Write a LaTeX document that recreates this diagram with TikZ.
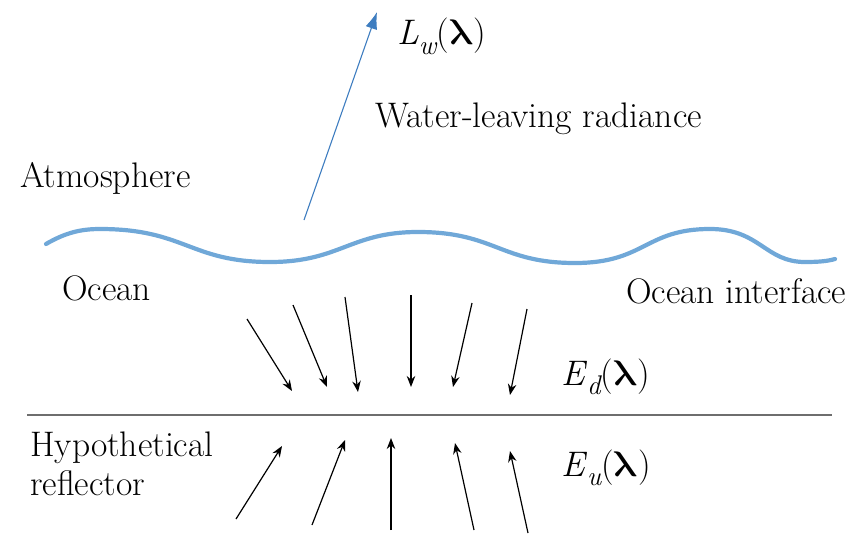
\documentclass[tikz,border=0pt]{standalone}
\usepackage{unicode-math}
\usetikzlibrary{arrows.meta}
\definecolor{wavecol}{RGB}{112,168,216}
\definecolor{arrowblue}{RGB}{62,125,192}
\definecolor{linegray}{RGB}{110,110,110}
\newcommand{\subtxt}[1]{\raisebox{-0.28em}{\fontsize{27}{30}\selectfont\itshape #1}}
\newcommand{\lam}{($\symbfup{\lambda}$)}
\tikzset{
  lbl/.style={font=\fontsize{35.5}{41}\selectfont, inner sep=0pt, anchor=base west},
  flux/.style={draw=black, line width=1.2pt, -{Stealth[length=11pt,width=8.5pt]}},
  leaving/.style={draw=arrowblue, line width=1.1pt, -{Latex[length=17pt,width=12pt]}},
  surface/.style={draw=wavecol, line width=4.2pt, line cap=round},
  reflector/.style={draw=linegray, line width=1.3pt}
}
\begin{document}
\begin{tikzpicture}[x=1pt,y=-1pt]
\useasboundingbox (0,0) rectangle (853,535);
% ocean surface
\draw[surface] (46,244) .. controls (65,233) and (80,229) .. (100,229)
  .. controls (185,229) and (190,262) .. (270,262)
  .. controls (340,262) and (350,232) .. (418,232)
  .. controls (495,232) and (500,263) .. (575,263)
  .. controls (645,263) and (645,229) .. (710,229)
  .. controls (760,229) and (765,262) .. (805,262)
  .. controls (820,262) and (828,261) .. (835,259);
% water-leaving radiance arrow
\coordinate (lwstart) at (304,220);
\coordinate (lwend) at (377,12);
\draw[leaving] (lwstart) -- (lwend);
\node[lbl] (lw) at (397,45) {\textit{L}\subtxt{w}\lam};
\node[lbl] (wlr) at (375,127) {Water-leaving radiance};
\node[lbl] (atm) at (20,187) {Atmosphere};
\node[lbl] (ocean) at (62,300) {Ocean};
\node[lbl] (oi) at (626,303) {Ocean interface};
% hypothetical reflector
\coordinate (refl) at (27,415);
\coordinate (refr) at (832,415);
\draw[reflector] (refl) -- (refr);
\node[lbl] (hyp) at (30,456) {Hypothetical};
\node[lbl] (rfl) at (30,495) {reflector};
\node[lbl] (ed) at (561,385) {\textit{E}\subtxt{d}\lam};
\node[lbl] (eu) at (561,476) {\textit{E}\subtxt{u}\lam};
% downwelling arrows
\coordinate (d1s) at (247,319); \coordinate (d1e) at (292,391);
\coordinate (d2s) at (293,305); \coordinate (d2e) at (327,387);
\coordinate (d3s) at (345,297); \coordinate (d3e) at (358,392);
\coordinate (d4s) at (411,295); \coordinate (d4e) at (411,387);
\coordinate (d5s) at (472,303); \coordinate (d5e) at (453,387);
\coordinate (d6s) at (527,309); \coordinate (d6e) at (510,395);
\foreach \i in {1,...,6} \draw[flux] (d\i s) -- (d\i e);
% upwelling arrows
\coordinate (u1s) at (236,519); \coordinate (u1e) at (282,446);
\coordinate (u2s) at (312,525); \coordinate (u2e) at (345,440);
\coordinate (u3s) at (391,530); \coordinate (u3e) at (391,438);
\coordinate (u4s) at (474,530); \coordinate (u4e) at (455,443);
\coordinate (u5s) at (528,533); \coordinate (u5e) at (510,451);
\foreach \i in {1,...,5} \draw[flux] (u\i s) -- (u\i e);
\end{tikzpicture}
\end{document}
